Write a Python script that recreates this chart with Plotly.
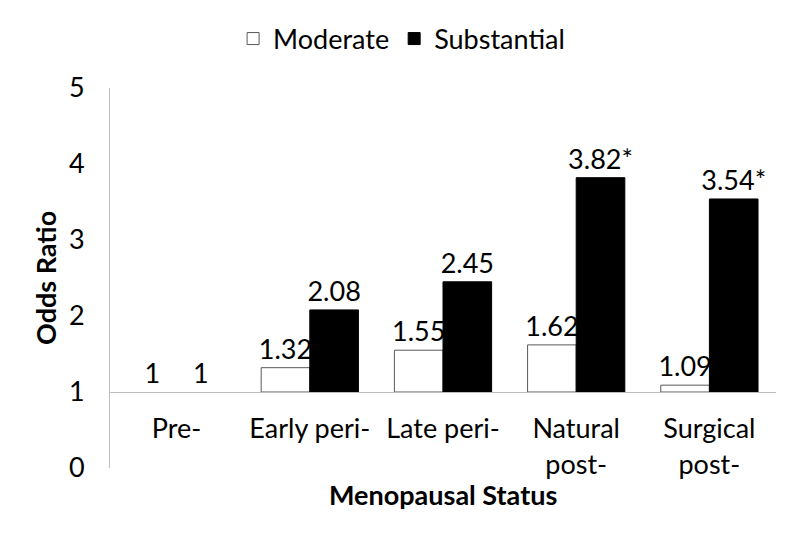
import plotly.graph_objects as go

categories = ["Pre-", "Early peri-", "Late peri-", "Natural<br>post-", "Surgical<br>post-"]
moderate = [1, 1.32, 1.55, 1.62, 1.09]
substantial = [1, 2.08, 2.45, 3.82, 3.54]
moderate_labels = ["1", "1.32", "1.55", "1.62", "1.09"]
substantial_labels = ["1", "2.08", "2.45", "3.82*", "3.54*"]
baseline = 1
y_ticks = [0, 1, 2, 3, 4, 5]

FONT = "Lato"
FS = 27


def rev(a):
    # feed points last-to-first so the legend swatch takes its outline from a non-zero bar;
    # the on-screen order is fixed by categoryarray below
    return list(a)[::-1]


fig = go.Figure()
for name, vals, labels, fill, edge in [
    ("Moderate", moderate, moderate_labels, "white", "#595959"),
    ("Substantial", substantial, substantial_labels, "black", "black"),
]:
    widths = [0 if v == baseline else 1 for v in vals]
    fig.add_trace(go.Bar(
        name=name, x=rev(categories), y=rev([v - baseline for v in vals]), base=baseline,
        marker=dict(color=fill, line=dict(color=edge, width=rev(widths))),
        text=rev(labels), textposition="outside", cliponaxis=False, constraintext="none",
        textfont=dict(family=FONT, size=FS, color="black"),
    ))

fig.update_layout(
    width=800, height=538,
    margin=dict(l=102, r=32, t=80, b=78, autoexpand=False),
    plot_bgcolor="white", paper_bgcolor="white",
    barmode="group", bargap=0.27, bargroupgap=0,
    font=dict(family=FONT, size=FS, color="black"),
    legend=dict(orientation="h", x=0.492, xanchor="center", y=1 - 31 / 538, yanchor="middle",
                xref="container", yref="container",
                font=dict(family=FONT, size=FS, color="black")),
    showlegend=True,
)

fig.update_xaxes(
    categoryorder="array", categoryarray=categories,
    anchor="free", position=(baseline - 0) / 5,
    showline=True, linecolor="#bfbfbf", linewidth=1,
    ticks="", showgrid=False, zeroline=False,
    tickfont=dict(family=FONT, size=FS, color="black"),
    ticklabelstandoff=13,
)
fig.update_yaxes(
    range=[0, 5], tickvals=y_ticks, showline=True, linecolor="#bfbfbf", linewidth=1,
    ticks="", showgrid=False, zeroline=False,
    tickfont=dict(family=FONT, size=FS, color="black"),
    ticklabelstandoff=19,
)
fig.add_annotation(text="<b>Odds Ratio</b>", xref="paper", yref="paper", textangle=-90,
                   x=-(110 - 45) / 666, y=0.5, xanchor="center", yanchor="middle", showarrow=False,
                   font=dict(family=FONT, size=FS, color="black"))
fig.add_annotation(text="<b>Menopausal Status</b>", xref="paper", yref="paper",
                   x=0.5, y=-(495 - 468) / 380, xanchor="center", yanchor="middle", showarrow=False,
                   font=dict(family=FONT, size=FS, color="black"))

fig.write_html("out.html")
